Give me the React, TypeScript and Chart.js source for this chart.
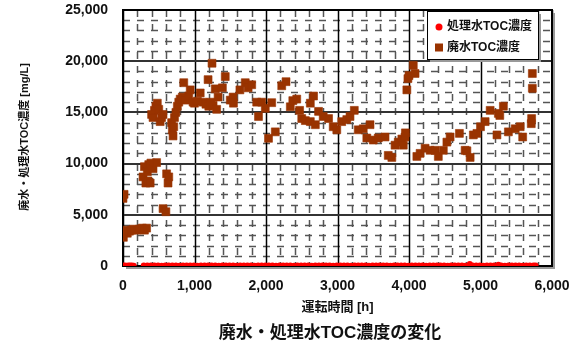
import React, { useEffect, useRef } from "react";
import { Chart, registerables } from "chart.js";

Chart.register(...registerables);

// 廃水TOC濃度 — operating hours and concentration (mg/L)
const wasteHours = [
  0, 15, 5, 20, 40, 60, 90, 120, 150, 190, 230, 270, 300, 330,
  280, 300, 320, 340, 350, 360, 380, 390, 420, 470,
  560, 600, 610, 630, 640,
  400, 420, 440, 460, 480, 500, 520, 540, 560,
  680, 690, 700, 710, 720, 740, 760, 780, 800, 830, 850, 880, 920, 940, 980,
  1000, 1040, 1080, 1120, 1160, 1190, 1200, 1230, 1245, 1260, 1290, 1310, 1330,
  1390, 1430, 1500, 1540, 1545,
  1635, 1710, 1750, 1800, 1870, 1895, 1940, 1990, 2035, 2080, 2130, 2220, 2280,
  2340, 2375, 2430, 2470, 2500, 2550, 2620, 2620, 2665, 2690, 2735, 2800, 2875,
  2940, 2990, 3060, 3130, 3175, 3235, 3290, 3360, 3410, 3455, 3500, 3570, 3665,
  3710, 3760, 3805, 3850, 3900, 3920, 3945, 3950, 3970, 3985, 4000, 4060, 4085,
  4110, 4155, 4225, 4295, 4365, 4410, 4480, 4530, 4575, 4705, 4785, 4810, 4855,
  4900, 4950, 5000, 5065, 5135, 5230, 5250, 5270, 5320, 5390, 5485, 5555, 5590,
  5710, 5715, 5725, 5725,
];
const wasteToc = [
  6600, 7000, 2800, 3300, 3500, 3200, 3400, 3500, 3600, 3500, 3600, 3700, 3500, 3700,
  8700, 9700, 8100, 9200, 8300, 9900, 8100, 10050, 9500, 10100,
  5600, 5300, 9000, 8100, 8700,
  14800, 14500, 15200, 15600, 15900, 15300, 14100, 14500, 14800,
  14000, 13300, 12700, 13600, 14500, 15000, 15600, 16000, 16300, 16500, 17900, 16200, 16600, 17200, 16000,
  15900, 16100, 16900, 16000, 15800, 18200, 15600, 16000, 19800, 15700, 17300, 15300, 16500,
  17400, 18500, 16200, 16500, 15900,
  17200, 17900, 17400, 17700, 16000, 14600, 16000, 15400, 12470, 15950, 13100, 17600, 18000,
  15550, 16150, 16300, 15200, 14400, 14200, 14100, 15900, 16600, 13800, 15100, 14600, 14400,
  13600, 13300, 14100, 14300, 14600, 15200, 13300, 13400, 12500, 13800, 12300, 12500, 12600,
  10800, 10600, 11800, 12100, 12400, 11800, 12600, 13000, 17200, 18300, 18600, 19600, 18800,
  10700, 11000, 11500, 11300, 11300, 10700, 11300, 12100, 12600, 12950, 11300, 11250, 10600,
  12800, 12950, 13600, 14100, 15200, 12800, 14900, 14700, 15600, 13100, 13400, 13600, 12600,
  13900, 14400, 17350, 18800,
];

// 処理水TOC濃度 — operating hours and concentration (mg/L)
const treatedHours = [
  0, 25, 50, 75, 100, 125, 150,
  290, 340, 390, 440, 490, 540, 590, 640, 690, 740, 790, 840, 890, 940, 990,
  1040, 1090, 1140, 1190, 1240, 1290, 1340, 1390, 1440, 1490, 1540, 1590, 1640,
  1690, 1740, 1790, 1840, 1890, 1940, 1990, 2040, 2090, 2140, 2190, 2240, 2290,
  2340, 2390, 2440, 2490, 2540, 2590, 2640, 2690, 2740, 2790, 2840, 2890, 2940,
  2990, 3040, 3090, 3140, 3190, 3240, 3290, 3340, 3390, 3440, 3490, 3540, 3590,
  3640, 3690, 3740, 3790, 3840, 3890, 3940, 3990, 4040, 4090, 4140, 4190, 4240,
  4290, 4340, 4390, 4440, 4490, 4540, 4590, 4640, 4690, 4740, 4790, 4850, 4890,
  4940, 4990, 5040, 5090, 5140, 5190, 5250, 5290, 5340, 5390, 5440, 5490, 5540,
  5590, 5640, 5690, 5740, 5770,
];
const treatedToc = [
  40, 50, 30, 60, 40, 50, 30,
  40, 50, 60, 40, 50, 30, 40, 60, 50, 40, 30, 50, 60, 40, 50,
  30, 40, 50, 60, 40, 50, 30, 40, 60, 50, 40, 30, 50,
  60, 40, 50, 30, 40, 50, 60, 40, 50, 30, 40, 60, 50,
  40, 30, 50, 60, 40, 50, 30, 40, 50, 60, 40, 50, 30,
  40, 60, 50, 40, 30, 50, 60, 40, 50, 30, 40, 50, 60,
  40, 50, 30, 40, 60, 50, 40, 30, 50, 60, 40, 50, 30,
  40, 50, 60, 40, 50, 30, 40, 60, 50, 40, 30, 200, 60,
  40, 50, 30, 40, 50, 60, 130, 50, 30, 40, 60, 50, 40,
  30, 50, 60, 40, 50,
];

const xTicks = [0, 1000, 2000, 3000, 4000, 5000, 6000];
const yTicks = [0, 5000, 10000, 15000, 20000, 25000];

const chartTitle = "廃水・処理水TOC濃度の変化";
const xTitle = "運転時間 [h]";
const yTitle = "廃水・処理水TOC濃度 [mg/L]";
const treatedLabel = "処理水TOC濃度";
const wasteLabel = "廃水TOC濃度";

const RED = "#ff0000";
const BROWN = "#993300";
const FONT = "'Liberation Sans', 'Noto Sans CJK JP', sans-serif";

const fmt = (v: number) => v.toLocaleString("en-US");

const gridPlugin = {
  id: "plotGrid",
  beforeDatasetsDraw(chart: any) {
    const { ctx, chartArea: a, scales } = chart;
    const xs = scales.x;
    const ys = scales.y;
    ctx.save();
    // minor dashed grid
    ctx.strokeStyle = "#555";
    ctx.lineWidth = 1.5;
    ctx.setLineDash([7, 7]);
    for (let v = 200; v < 6000; v += 200) {
      if (v % 1000 === 0) continue;
      const px = Math.round(xs.getPixelForValue(v)) + 0.5;
      ctx.lineDashOffset = 3;
      ctx.beginPath();
      ctx.moveTo(px, a.bottom);
      ctx.lineTo(px, a.top);
      ctx.stroke();
    }
    for (let v = 1000; v < 25000; v += 1000) {
      if (v % 5000 === 0) continue;
      const py = Math.round(ys.getPixelForValue(v)) + 0.5;
      ctx.lineDashOffset = 0;
      ctx.beginPath();
      ctx.moveTo(a.left, py);
      ctx.lineTo(a.right, py);
      ctx.stroke();
    }
    ctx.setLineDash([]);
    // major solid grid
    ctx.strokeStyle = "#000";
    ctx.lineWidth = 1.5;
    for (const v of xTicks) {
      const px = Math.round(xs.getPixelForValue(v)) + 0.5;
      ctx.beginPath();
      ctx.moveTo(px, a.bottom);
      ctx.lineTo(px, a.top);
      ctx.stroke();
    }
    ctx.strokeStyle = "#333";
    ctx.lineWidth = 2.2;
    for (const v of yTicks) {
      const py = Math.round(ys.getPixelForValue(v));
      ctx.beginPath();
      ctx.moveTo(a.left, py);
      ctx.lineTo(a.right, py);
      ctx.stroke();
    }
    // plot frame with a soft shadow
    ctx.strokeStyle = "#999";
    ctx.lineWidth = 2;
    ctx.beginPath();
    ctx.moveTo(a.right + 2, a.top + 3);
    ctx.lineTo(a.right + 2, a.bottom + 2);
    ctx.lineTo(a.left + 3, a.bottom + 2);
    ctx.stroke();
    ctx.strokeStyle = "#000";
    ctx.lineWidth = 2;
    ctx.strokeRect(a.left, a.top, a.right - a.left, a.bottom - a.top);
    ctx.restore();
  },
  afterDraw(chart: any) {
    const { ctx, chartArea: a } = chart;
    ctx.save();
    ctx.fillStyle = "#111";
    ctx.textAlign = "center";
    ctx.textBaseline = "middle";
    // axis titles
    ctx.font = `bold 13px ${FONT}`;
    ctx.fillText(xTitle, (a.left + a.right) / 2, 307);
    ctx.font = `bold 17px ${FONT}`;
    ctx.fillText(chartTitle, 330, 333);
    ctx.save();
    ctx.translate(25, 137);
    ctx.rotate(-Math.PI / 2);
    ctx.font = `bold 11px ${FONT}`;
    ctx.fillText(yTitle, 0, 0);
    ctx.restore();

    // legend box
    const lx = 427, ly = 11, lw = 111, lh = 48;
    ctx.fillStyle = "#999";
    ctx.fillRect(lx + 3, ly + 3, lw, lh);
    ctx.fillStyle = "#fff";
    ctx.fillRect(lx, ly, lw, lh);
    ctx.strokeStyle = "#000";
    ctx.lineWidth = 1;
    ctx.strokeRect(lx + 0.5, ly + 0.5, lw, lh);
    ctx.fillStyle = RED;
    ctx.beginPath();
    ctx.arc(439, 27, 3.5, 0, Math.PI * 2);
    ctx.fill();
    ctx.fillStyle = BROWN;
    ctx.fillRect(435, 43.5, 8, 8);
    ctx.fillStyle = "#111";
    ctx.textAlign = "left";
    ctx.font = `bold 12px ${FONT}`;
    ctx.fillText(treatedLabel, 447, 27);
    ctx.fillText(wasteLabel, 447, 47.5);
    ctx.restore();
  },
};

// keep tick labels from pushing the plot area inward
const noLabelPadding = (s: any) => {
  s.paddingTop = 0;
  s.paddingBottom = 0;
  s.paddingLeft = 0;
  s.paddingRight = 0;
};

export default function App() {
  const ref = useRef<HTMLCanvasElement | null>(null);

  useEffect(() => {
    if (!ref.current) return;
    const chart = new Chart(ref.current, {
      type: "scatter",
      data: {
        datasets: [
          {
            label: treatedLabel,
            data: treatedHours.map((h, i) => ({ x: h, y: treatedToc[i] })),
            backgroundColor: RED,
            borderColor: RED,
            pointStyle: "circle",
            pointRadius: 3,
            borderWidth: 0,
          },
          {
            label: wasteLabel,
            data: wasteHours.map((h, i) => ({ x: h, y: wasteToc[i] })),
            backgroundColor: BROWN,
            borderColor: "rgba(153,51,0,0.6)",
            pointStyle: "rect",
            pointRadius: 5.6,
            borderWidth: 1,
          },
        ],
      },
      options: {
        responsive: false,
        animation: false,
        layout: { padding: { top: 10, right: 17, left: 0, bottom: 0 } },
        plugins: {
          legend: { display: false },
          tooltip: { enabled: false },
          title: { display: false },
        },
        scales: {
          x: {
            type: "linear",
            min: 0,
            max: 6000,
            afterBuildTicks: (s: any) => {
              s.ticks = xTicks.map((v) => ({ value: v }));
            },
            afterFit: (s: any) => {
              s.height = 80;
              noLabelPadding(s);
            },
            grid: { display: false, drawTicks: false },
            border: { display: false },
            ticks: {
              padding: 12,
              color: "#111",
              font: { family: FONT, size: 14, weight: "bold" },
              maxRotation: 0,
              callback: (v: any) => fmt(Number(v)),
            },
          },
          y: {
            type: "linear",
            min: 0,
            max: 25000,
            afterBuildTicks: (s: any) => {
              s.ticks = yTicks.map((v) => ({ value: v }));
            },
            afterFit: (s: any) => {
              s.width = 123;
              noLabelPadding(s);
            },
            grid: { display: false, drawTicks: false },
            border: { display: false },
            ticks: {
              padding: 15,
              color: "#111",
              font: { family: FONT, size: 14, weight: "bold" },
              callback: (v: any) => fmt(Number(v)),
            },
          },
        },
      },
      plugins: [gridPlugin],
    });
    return () => chart.destroy();
  }, []);

  return (
    <div style={{ position: "fixed", left: 0, top: 0, width: 569, height: 346, background: "#fff" }}>
      <canvas ref={ref} width={569} height={346} />
    </div>
  );
}
